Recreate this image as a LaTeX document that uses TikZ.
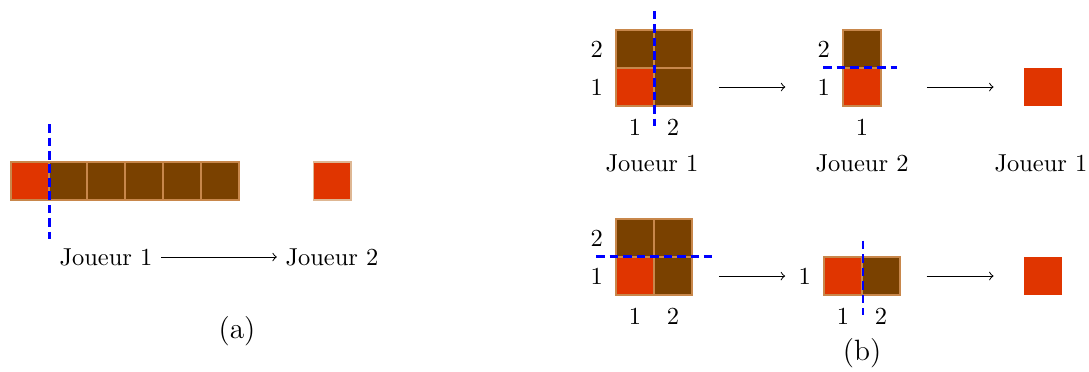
\documentclass[tikz,border=0pt]{standalone}
\usepackage{xcolor}
\usepackage{tikz}
\usetikzlibrary{positioning}

\definecolor{choco}{RGB}{122,65,0}
\definecolor{poison}{RGB}{224,53,0}
\definecolor{bord}{RGB}{200,135,75}

\begin{document}
\begin{tikzpicture}[
  cell/.style={
    draw=bord,
    line width=0.8pt,
    minimum size=0.545cm,
    inner sep=0pt,
    fill=choco
  },
  poisoned/.style={
    cell,
    fill=poison
  },
  lastbit/.style={
    minimum size=0.545cm,
    inner sep=0pt,
    fill=poison
  },
  cut/.style={
    blue,
    line width=1.2pt,
    dash pattern=on 3.5pt off 2pt
  },
  fleche/.style={
    ->,
    thin
  },
  caption/.style={
    font=\large
  }
]
\useasboundingbox (0,0) rectangle (15.627,5.324);

%---------------------------------
% (a) : one row of chocolate
%---------------------------------
\foreach \i/\s in {0/poisoned,1/cell,2/cell,3/cell,4/cell,5/cell}
  \node[\s] (a\i) at ({0.430+0.545*\i},2.727) {};
\node[lastbit, draw=bord!60, line width=0.8pt] (aend) at (4.771,2.727) {};

\draw[cut] ([yshift=0.53cm]a0.north east) -- ([yshift=-0.545cm]a0.south east);

\node (aj1) at (1.521,1.636) {Joueur 1};
\node (aj2) at (4.764,1.636) {Joueur 2};
\draw[fleche] (aj1) -- (aj2);

\node[caption] (capa) at (3.401,0.570) {(a)};

%---------------------------------
% (b) top row
%---------------------------------
\foreach \c/\r/\s in {1/1/poisoned,2/1/cell,1/2/cell,2/2/cell}
  \node[\s] (t\c\r) at ({9.112+0.546*(\c-1)},{4.075+0.546*(\r-1)}) {};
\node[left=0.5mm of t11] (ty1) {1};
\node[left=0.5mm of t12] (ty2) {2};
\node[below=0.5mm of t11] (tx1) {1};
\node[below=0.5mm of t21] (tx2) {2};
\draw[cut] ([yshift=0.26cm]t12.north east) -- ([yshift=-0.27cm]t11.south east);

\node[poisoned] (u1) at (12.370,4.075) {};
\node[cell] (u2) at (12.370,4.621) {};
\node[left=0.5mm of u1] (uy1) {1};
\node[left=0.5mm of u2] (uy2) {2};
\node[below=0.5mm of u1] (ux1) {1};
\draw[cut] ([xshift=-0.27cm]u1.north west) -- ([xshift=0.22cm]u1.north east);

\node[lastbit] (tend) at (14.967,4.075) {};

\draw[fleche, shorten <=0.37cm, shorten >=0.34cm] (t21.east) -- (t21.east -| uy1.west);
\draw[fleche, shorten <=0.645cm, shorten >=0.43cm] (u1.east) -- (tend.west);

\node (tj1) at (9.356,2.985) {Joueur 1};
\node (tj2) at (12.370,2.985) {Joueur 2};
\node (tj3) at (14.938,2.985) {Joueur 1};

%---------------------------------
% (b) bottom row
%---------------------------------
\foreach \c/\r/\s in {1/1/poisoned,2/1/cell,1/2/cell,2/2/cell}
  \node[\s] (b\c\r) at ({9.112+0.546*(\c-1)},{1.363+0.546*(\r-1)}) {};
\node[left=0.5mm of b11] (by1) {1};
\node[left=0.5mm of b12] (by2) {2};
\node[below=0.5mm of b11] (bx1) {1};
\node[below=0.5mm of b21] (bx2) {2};
\draw[cut] ([xshift=-0.27cm]b11.north west) -- ([xshift=0.27cm]b21.north east);

\node[poisoned] (v1) at (12.097,1.363) {};
\node[cell] (v2) at (12.642,1.363) {};
\node[left=0.5mm of v1] (vy1) {1};
\node[below=0.5mm of v1] (vx1) {1};
\node[below=0.5mm of v2] (vx2) {2};
\draw[cut] ([yshift=0.22cm]v1.north east) -- ([yshift=-0.27cm]v1.south east);

\node[lastbit] (bend) at (14.967,1.363) {};

\draw[fleche, shorten <=0.37cm, shorten >=0.07cm] (b21.east) -- (b21.east -| vy1.west);
\draw[fleche, shorten <=0.37cm, shorten >=0.43cm] (v2.east) -- (bend.west);

\node[caption] (capb) at (12.370,0.250) {(b)};

\end{tikzpicture}
\end{document}
